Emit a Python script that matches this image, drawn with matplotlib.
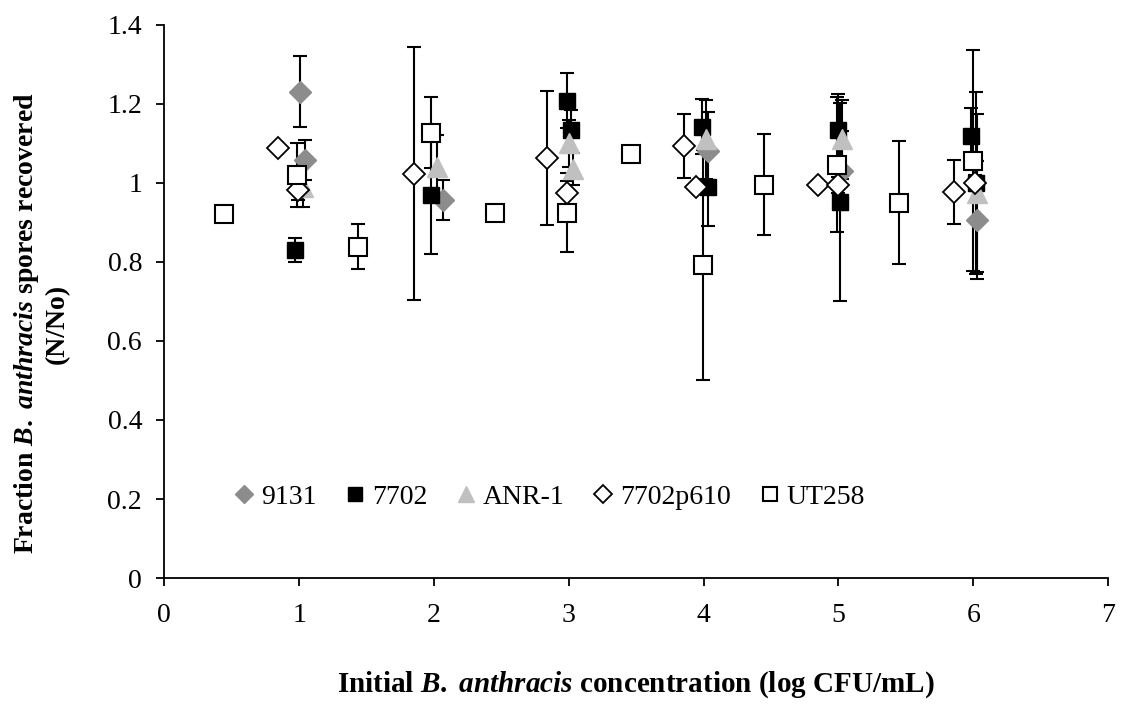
import matplotlib
matplotlib.use("Agg")
import matplotlib.pyplot as plt
from matplotlib.lines import Line2D

plt.rcParams["font.family"] = ["Liberation Serif", "DejaVu Serif"]
plt.rcParams["mathtext.fontset"] = "custom"
plt.rcParams["mathtext.rm"] = "Liberation Serif:bold"
plt.rcParams["mathtext.it"] = "Liberation Serif:italic:bold"
plt.rcParams["mathtext.bf"] = "Liberation Serif:bold"

# Strain 9131
x_9131 = [1.01, 1.045, 2.07, 4.03, 5.03, 6.03]
y_9131 = [1.23, 1.058, 0.957, 1.08, 1.03, 0.906]
e_9131 = [0.09, 0.05, 0.05, 0.10, 0.10, 0.15]

# Strain 7702
x_7702 = [0.97, 1.98, 2.99, 3.02, 3.99, 4.03, 5.0, 5.01, 5.98, 6.02]
y_7702 = [0.83, 0.97, 1.208, 1.134, 1.142, 0.99, 1.134, 0.952, 1.119, 1.0]
e_7702 = [0.03, 0.15, 0.07, 0.05, 0.07, 0.10, 0.09, 0.25, 0.07, 0.23]

# Strain ANR-1
x_anr = [1.03, 2.02, 3.0, 3.03, 4.02, 5.03, 6.03]
y_anr = [0.99, 1.04, 1.10, 1.035, 1.11, 1.11, 0.975]
e_anr = [0.05, 0.08, 0.06, 0.04, 0.10, 0.10, 0.20]

# Strain 7702p610
x_p610 = [0.845, 0.99, 1.853, 2.84, 2.99, 3.855, 3.94, 4.85, 5.0, 5.86, 6.01]
y_p610 = [1.089, 0.982, 1.023, 1.063, 0.975, 1.093, 0.99, 0.995, 0.995, 0.977, 1.0]
e_p610 = [0.01, 0.025, 0.32, 0.17, 0.03, 0.08, 0.01, 0.01, 0.02, 0.08, 0.02]

# Strain UT258
x_ut = [0.445, 0.985, 1.44, 1.98, 2.45, 2.99, 3.46, 3.995, 4.45, 4.99, 5.45, 6.0]
y_ut = [0.92, 1.02, 0.838, 1.127, 0.924, 0.924, 1.073, 0.792, 0.995, 1.046, 0.95, 1.056]
e_ut = [0.0, 0.08, 0.057, 0.09, 0.0, 0.10, 0.01, 0.29, 0.128, 0.17, 0.155, 0.28]

series_names = ["9131", "7702", "ANR-1", "7702p610", "UT258"]

fig = plt.figure(figsize=(11.25, 7.05), dpi=100)
ax = fig.add_axes([0.146, 0.180, 0.839, 0.785])

styles = [
    dict(marker="D", ms=11, mfc="#8c8c8c", mec="#8c8c8c"),
    dict(marker="s", ms=12, mfc="black", mec="black"),
    dict(marker="^", ms=14, mfc="#c0c0c0", mec="#c0c0c0"),
    dict(marker="D", ms=11, mfc="white", mec="black", mew=1.3),
    dict(marker="s", ms=12.5, mfc="white", mec="black", mew=1.5),
]
data = [
    (x_9131, y_9131, e_9131),
    (x_7702, y_7702, e_7702),
    (x_anr, y_anr, e_anr),
    (x_p610, y_p610, e_p610),
    (x_ut, y_ut, e_ut),
]

for (xs, ys, es), st in zip(data, styles):
    ax.errorbar(xs, ys, yerr=es, fmt="none", ecolor="black",
                elinewidth=1.5, capsize=5, capthick=1.5, zorder=2)
    ax.plot(xs, ys, linestyle="none", zorder=3, **st)

ax.set_xlim(0, 7)
ax.set_ylim(0, 1.4)
ax.set_xticks(range(0, 8))
ax.set_yticks([0, 0.2, 0.4, 0.6, 0.8, 1.0, 1.2, 1.4])
ax.set_yticklabels(["0", "0.2", "0.4", "0.6", "0.8", "1", "1.2", "1.4"])
for side in ("top", "right"):
    ax.spines[side].set_visible(False)
for side in ("left", "bottom"):
    ax.spines[side].set_linewidth(1.3)
ax.tick_params(axis="both", direction="out", length=6, width=1.3,
               labelsize=20, pad=10)
ax.tick_params(axis="x", pad=12)

ax.set_xlabel("Initial $\\mathit{B.}$ $\\mathit{anthracis}$ concentration (log CFU/mL)",
              fontsize=21, fontweight="bold", labelpad=30)
ax.set_ylabel("Fraction $\\mathit{B.}$ $\\mathit{anthracis}$ spores recovered\n(N/No)",
              fontsize=20, fontweight="bold", linespacing=1.2)
ax.yaxis.set_label_coords(-0.1, 0.46)

handles = [Line2D([], [], linestyle="none", **{**st, "ms": st["ms"] * 0.8})
           for st in styles]
ax.legend(handles, series_names, loc="center left",
          bbox_to_anchor=(0.058, 0.146), ncol=5, frameon=False,
          fontsize=20, handletextpad=0.1, columnspacing=0.9,
          handlelength=1.0, borderaxespad=0)

fig.savefig("out.png", dpi=100)
